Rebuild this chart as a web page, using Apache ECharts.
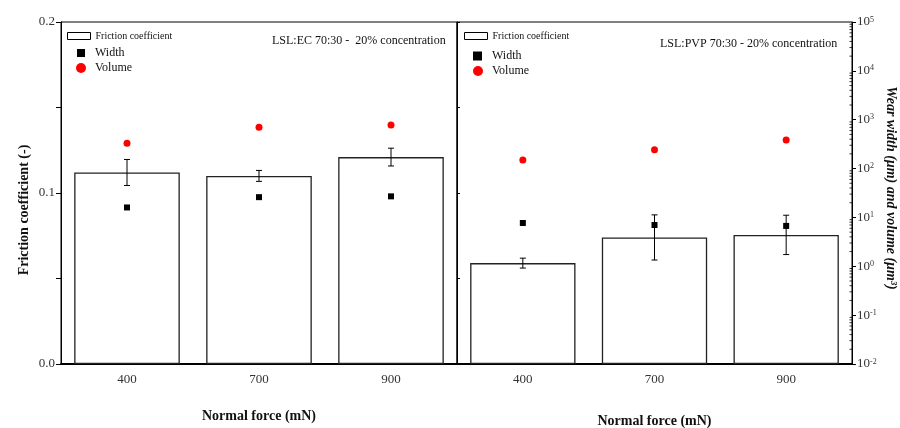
<!DOCTYPE html>
<html>
<head>
<meta charset="utf-8">
<script src="https://cdn.jsdelivr.net/npm/echarts@6/dist/echarts.min.js"></script>
<style>
  html, body { margin: 0; padding: 0; background: #fff; }
  #chart { width: 900px; height: 428px; }
</style>
</head>
<body>
<div id="chart"></div>
<script>
// Normal force categories (mN)
const categories = ['400', '700', '900'];

// LSL:EC 70:30 - 20% concentration
const ecFriction = [0.112, 0.110, 0.121];
const ecFrictionErr = [0.0076, 0.0032, 0.0052];
const ecWidth = [16, 26, 27];        // µm
const ecVolume = [330, 700, 780];    // µm³

// LSL:PVP 70:30 - 20% concentration
const pvpFriction = [0.059, 0.074, 0.0755];
const pvpFrictionErr = [0.0029, 0.0132, 0.0115];
const pvpWidth = [7.7, 7.0, 6.7];
const pvpVolume = [150, 243, 385];

// Log axis range (decades)
const logMin = 0.01;
const logMax = 100000;
const minorMantissas = [2, 3, 4, 5, 6, 7, 8, 9];

const FONT = 'Liberation Serif';
const INK = '#111';

// minor tick positions for the logarithmic wear axis
const minorLogTicks = [];
for (let e = -2; e < 5; e++) {
  minorMantissas.forEach(m => minorLogTicks.push([0, m * Math.pow(10, e)]));
}

function errorData(mean, err) {
  return mean.map((m, i) => [i, m - err[i], m + err[i]]);
}

function renderErrorBar(params, api) {
  const idx = api.value(0);
  const lo = api.coord([idx, api.value(1)]);
  const hi = api.coord([idx, api.value(2)]);
  const cap = 3;
  const st = { stroke: '#000', lineWidth: 1 };
  return {
    type: 'group',
    children: [
      { type: 'line', shape: { x1: lo[0], y1: lo[1], x2: hi[0], y2: hi[1] }, style: st },
      { type: 'line', shape: { x1: lo[0] - cap, y1: lo[1], x2: lo[0] + cap, y2: lo[1] }, style: st },
      { type: 'line', shape: { x1: hi[0] - cap, y1: hi[1], x2: hi[0] + cap, y2: hi[1] }, style: st }
    ]
  };
}

function renderMinorTick(params, api) {
  const p = api.coord([0, api.value(1)]);
  const xr = params.coordSys.x + params.coordSys.width;
  return {
    type: 'line',
    shape: { x1: xr - 2.5, y1: p[1], x2: xr + 0.5, y2: p[1] },
    style: { stroke: '#000', lineWidth: 0.8 }
  };
}

function categoryAxis(gridIndex, nameGap) {
  return {
    type: 'category',
    gridIndex: gridIndex,
    data: categories,
    name: 'Normal force (mN)',
    nameLocation: 'middle',
    nameGap: nameGap,
    nameTextStyle: { fontFamily: FONT, fontSize: 14, fontWeight: 'bold', color: INK },
    axisLine: { lineStyle: { color: '#000', width: 1.8 } },
    axisTick: { alignWithLabel: true, length: 5, lineStyle: { color: '#000', width: 1 } },
    axisLabel: { fontFamily: FONT, fontSize: 13, color: '#333', margin: 9 },
    splitLine: { show: false }
  };
}

function legendItem(name, left, top, opts) {
  return Object.assign({
    data: [name],
    left: left,
    top: top,
    padding: 0,
    selectedMode: false,
    orient: 'vertical',
    textStyle: { fontFamily: FONT, fontSize: 12, color: INK }
  }, opts);
}

const frictionLegendStyle = {
  icon: 'rect', itemWidth: 23, itemHeight: 7,
  itemStyle: { color: '#fff', borderColor: '#000', borderWidth: 1 },
  textStyle: { fontFamily: FONT, fontSize: 10, color: INK }
};
const widthLegendStyle = {
  icon: 'rect', itemWidth: 8, itemHeight: 8,
  itemStyle: { color: '#000', opacity: 1 },
  textStyle: { fontFamily: FONT, fontSize: 12, color: INK, padding: [0, 0, 0, 5] }
};
const volumeLegendStyle = {
  icon: 'circle', itemWidth: 10, itemHeight: 10,
  itemStyle: { color: '#ff0000', opacity: 1 },
  textStyle: { fontFamily: FONT, fontSize: 12, color: INK, padding: [0, 0, 0, 4] }
};

const chart = echarts.init(document.getElementById('chart'), null, { renderer: 'canvas' });

chart.setOption({
  backgroundColor: '#fff',
  animation: false,
  grid: [
    { left: 61, right: 443, top: 22, bottom: 64, show: true, borderColor: '#000', borderWidth: 1, containLabel: false, outerBoundsMode: 'none' },
    { left: 457, right: 48, top: 22, bottom: 64, show: true, borderColor: '#000', borderWidth: 1, containLabel: false, outerBoundsMode: 'none' }
  ],
  legend: [
    legendItem('Friction coefficient', 67, 31, frictionLegendStyle),
    legendItem('Width', 77, 47, widthLegendStyle),
    legendItem('Volume', 76, 62, volumeLegendStyle),
    legendItem('Friction coefficient', 464, 31, frictionLegendStyle),
    legendItem('Width', 473, 50, Object.assign({}, widthLegendStyle, { itemWidth: 9, itemHeight: 9 })),
    legendItem('Volume', 473, 65, volumeLegendStyle)
  ],
  xAxis: [categoryAxis(0, 45), categoryAxis(1, 50)],
  yAxis: [
    {
      type: 'value', gridIndex: 0, position: 'left',
      min: 0, max: 0.2, interval: 0.05,
      name: 'Friction coefficient (-)',
      nameLocation: 'middle', nameGap: 30, nameRotate: 90,
      nameTextStyle: { fontFamily: FONT, fontSize: 14, fontWeight: 'bold', color: INK, padding: [0, 34, 0, 0] },
      axisLine: { show: true, lineStyle: { color: '#000', width: 1 } },
      axisTick: { show: true, length: 5, lineStyle: { color: '#000' } },
      axisLabel: {
        fontFamily: FONT, fontSize: 13, color: '#333', margin: 6,
        formatter: v => (Math.abs(v * 10 - Math.round(v * 10)) < 1e-9 ? v.toFixed(1) : '')
      },
      splitLine: { show: false }
    },
    {
      type: 'log', gridIndex: 0, logBase: 10, min: logMin, max: logMax,
      show: false
    },
    {
      type: 'value', gridIndex: 1, position: 'left',
      min: 0, max: 0.2, interval: 0.05,
      axisLine: { show: true, lineStyle: { color: '#000', width: 1 } },
      axisTick: { show: true, inside: true, length: 3, lineStyle: { color: '#000' } },
      axisLabel: { show: false },
      splitLine: { show: false }
    },
    {
      type: 'log', gridIndex: 1, logBase: 10, position: 'right',
      min: logMin, max: logMax, interval: 1,
      name: 'Wear width (μm) and volume (μm³)',
      nameLocation: 'middle', nameGap: 32, nameRotate: -90,
      nameTextStyle: { fontFamily: FONT, fontSize: 14, fontWeight: 'bold', fontStyle: 'italic', color: INK, padding: [0, 10, 0, 0] },
      axisLine: { show: true, lineStyle: { color: '#000', width: 1 } },
      axisTick: { show: true, length: 4, lineStyle: { color: '#000' } },
      axisLabel: {
        margin: 5,
        formatter: v => '{b|10}{s|' + Math.round(Math.log(v) / Math.LN10) + '}',
        rich: {
          b: { fontFamily: FONT, fontSize: 13, color: '#333' },
          s: { fontFamily: FONT, fontSize: 8, color: '#333', verticalAlign: 'top' }
        }
      },
      splitLine: { show: false }
    }
  ],
  graphic: [
    {
      type: 'text', left: 272, top: 35,
      style: { text: 'LSL:EC 70:30 -  20% concentration', font: '12px "Liberation Serif"', fill: INK }
    },
    {
      type: 'text', left: 660, top: 38,
      style: { text: 'LSL:PVP 70:30 - 20% concentration', font: '12px "Liberation Serif"', fill: INK }
    }
  ],
  series: [
    {
      name: 'Friction coefficient', type: 'bar', xAxisIndex: 0, yAxisIndex: 0,
      data: ecFriction, barWidth: '80%',
      itemStyle: { color: '#fff', borderColor: '#222', borderWidth: 1.3 }
    },
    {
      type: 'custom', xAxisIndex: 0, yAxisIndex: 0, z: 5,
      renderItem: renderErrorBar, data: errorData(ecFriction, ecFrictionErr),
      encode: { x: 0, y: [1, 2] }, silent: true
    },
    {
      name: 'Width', type: 'scatter', xAxisIndex: 0, yAxisIndex: 1, z: 6,
      symbol: 'rect', symbolSize: 6, data: ecWidth, itemStyle: { color: '#000', opacity: 1 }
    },
    {
      name: 'Volume', type: 'scatter', xAxisIndex: 0, yAxisIndex: 1, z: 6,
      symbol: 'circle', symbolSize: 7, data: ecVolume, itemStyle: { color: '#ff0000', opacity: 1 }
    },
    {
      name: 'Friction coefficient', type: 'bar', xAxisIndex: 1, yAxisIndex: 2,
      data: pvpFriction, barWidth: '80%',
      itemStyle: { color: '#fff', borderColor: '#222', borderWidth: 1.3 }
    },
    {
      type: 'custom', xAxisIndex: 1, yAxisIndex: 2, z: 5,
      renderItem: renderErrorBar, data: errorData(pvpFriction, pvpFrictionErr),
      encode: { x: 0, y: [1, 2] }, silent: true
    },
    {
      name: 'Width', type: 'scatter', xAxisIndex: 1, yAxisIndex: 3, z: 6,
      symbol: 'rect', symbolSize: 6, data: pvpWidth, itemStyle: { color: '#000', opacity: 1 }
    },
    {
      name: 'Volume', type: 'scatter', xAxisIndex: 1, yAxisIndex: 3, z: 6,
      symbol: 'circle', symbolSize: 7, data: pvpVolume, itemStyle: { color: '#ff0000', opacity: 1 }
    },
    {
      type: 'custom', xAxisIndex: 1, yAxisIndex: 3, z: 4, silent: true,
      renderItem: renderMinorTick, data: minorLogTicks,
      encode: { x: 0, y: 1 }, clip: false
    }
  ]
});
</script>
</body>
</html>
